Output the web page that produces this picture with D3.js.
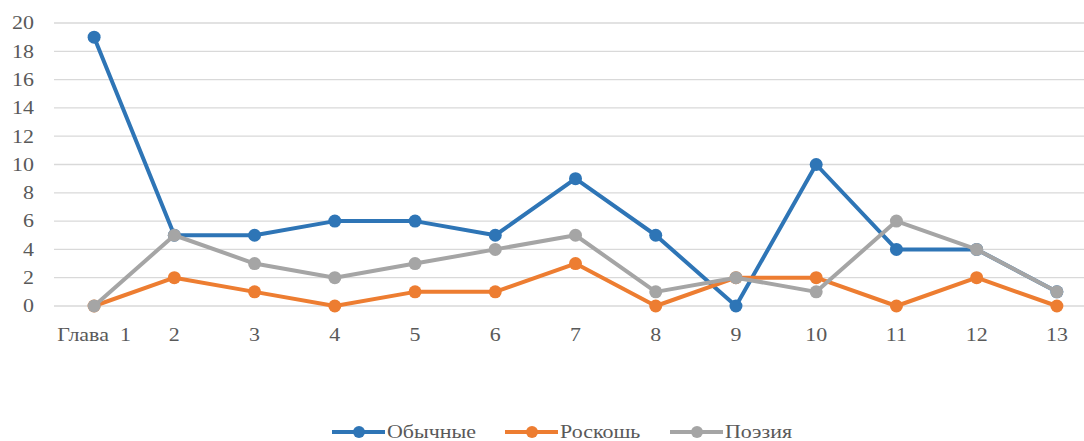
<!DOCTYPE html>
<html>
<head>
<meta charset="utf-8">
<script src="https://cdn.jsdelivr.net/npm/d3@7"></script>
<style>
  body { margin: 0; background: #fff; }
  svg { display: block; }
</style>
</head>
<body>
<script>
// === Data ===
const chapters = ["Глава  1", "2", "3", "4", "5", "6", "7", "8", "9", "10", "11", "12", "13"]
const obychnye = [19, 5, 5, 6, 6, 5, 9, 5, 0, 10, 4, 4, 1]
const roskosh = [0, 2, 1, 0, 1, 1, 3, 0, 2, 2, 0, 2, 0]
const poeziya = [0, 5, 3, 2, 3, 4, 5, 1, 2, 1, 6, 4, 1]
const yTicks = [0, 2, 4, 6, 8, 10, 12, 14, 16, 18, 20]

const seriesNames = ["Обычные", "Роскошь", "Поэзия"]
const seriesColors = ["#2E75B6", "#ED7D31", "#A5A5A5"]
const seriesValues = [obychnye, roskosh, poeziya]

const W = 1084, H = 441
const font = "'Liberation Serif', 'Times New Roman', serif"
const stretch = 1.22   // the scanned text is a bit wide

const svg = d3.select("body").append("svg")
    .attr("width", W)
    .attr("height", H)

const x = d3.scaleBand()
    .domain(chapters)
    .range([54, 1097])

const y = d3.scaleLinear()
    .domain([0, 20])
    .range([306, 23])

const cx = d => x(d) + x.bandwidth() / 2

// gridlines
svg.append("g")
    .selectAll("line")
    .data(yTicks)
    .enter()
    .append("line")
    .attr("x1", 54)
    .attr("x2", 1097)
    .attr("y1", d => y(d))
    .attr("y2", d => y(d))
    .attr("stroke", "#d9d9d9")
    .attr("stroke-width", 1.3)

// Y axis labels
svg.append("g")
    .selectAll("text")
    .data(yTicks)
    .enter()
    .append("text")
    .attr("transform", d => "translate(34," + y(d) + ") scale(" + stretch + ",1)")
    .attr("dy", "0.35em")
    .attr("text-anchor", "end")
    .attr("font-family", font)
    .attr("font-size", 18)
    .attr("fill", "#595959")
    .text(d => d)

// X axis labels
svg.append("g")
    .selectAll("text")
    .data(chapters)
    .enter()
    .append("text")
    .attr("transform", d => "translate(" + cx(d) + ",341) scale(" + stretch + ",1)")
    .attr("text-anchor", "middle")
    .attr("font-family", font)
    .attr("font-size", 18)
    .attr("fill", "#595959")
    .style("white-space", "pre")
    .text(d => d)

const line = d3.line()
    .x((d, i) => cx(chapters[i]))
    .y(d => y(d))

seriesValues.forEach((vals, s) => {
    const g = svg.append("g")
    g.append("path")
        .datum(vals)
        .attr("d", line)
        .attr("fill", "none")
        .attr("stroke", seriesColors[s])
        .attr("stroke-width", 4)
        .attr("stroke-linejoin", "round")
    g.selectAll("circle")
        .data(vals)
        .enter()
        .append("circle")
        .attr("cx", (d, i) => cx(chapters[i]))
        .attr("cy", d => y(d))
        .attr("r", 6.5)
        .attr("fill", seriesColors[s])
})

// legend
const legendX = [332, 505, 670]
const legend = svg.append("g")
    .selectAll("g")
    .data(seriesNames)
    .enter()
    .append("g")
    .attr("transform", (d, i) => "translate(" + legendX[i] + ",432)")

legend.append("line")
    .attr("x1", 0)
    .attr("x2", 53)
    .attr("stroke", (d, i) => seriesColors[i])
    .attr("stroke-width", 4)
legend.append("circle")
    .attr("cx", 27)
    .attr("r", 6)
    .attr("fill", (d, i) => seriesColors[i])
legend.append("text")
    .attr("transform", "translate(55,6) scale(" + stretch + ",1)")
    .attr("font-family", font)
    .attr("font-size", 18)
    .attr("fill", "#595959")
    .text(d => d)
</script>
</body>
</html>
